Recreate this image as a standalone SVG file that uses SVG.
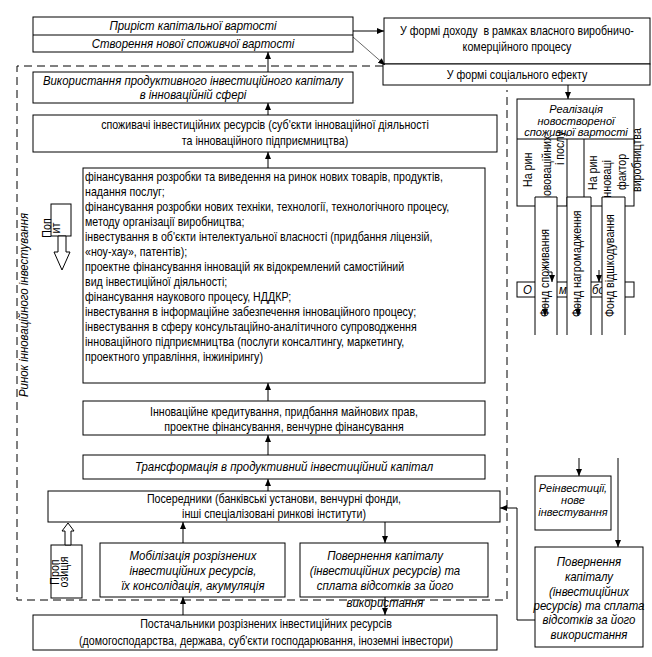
<svg xmlns="http://www.w3.org/2000/svg" width="652" height="657" viewBox="0 0 652 657">
<style>
.b{fill:#fff;stroke:#000;stroke-width:1}
.t{font-family:"Liberation Sans",Arial,sans-serif;font-size:13px;fill:#000}
.s{font-size:11px}
.u{font-size:12px}
.i{font-style:italic}
.m{text-anchor:middle}
.c{stroke:#000;stroke-width:1;fill:none}
.d{stroke:#000;stroke-width:1;fill:none;stroke-dasharray:8 5}
</style>
<defs>
<marker id="a" markerWidth="8" markerHeight="8" refX="7" refY="4" orient="auto" markerUnits="userSpaceOnUse"><path d="M0,1 L7,4 L0,7 z" fill="#000"/></marker>
</defs>
<rect width="652" height="657" fill="#fff"/>
<path id="market-border" class="d" d="M383,66 H17 V600 H507 V90"/>
<text class="t i m" transform="translate(28 305) rotate(-90) scale(.88 1)">Ринок інноваційного інвестування</text>

<g id="n-top">
<rect class="b" x="33" y="17" width="320" height="35"/>
<line class="c" x1="33" y1="35" x2="353" y2="35"/>
<text class="t i m" transform="translate(193 30) scale(.88 1)">Приріст капітальної вартості</text>
<text class="t i m" transform="translate(193 48) scale(.88 1)">Створення нової споживчої вартості</text>
</g>
<g id="n-income">
<rect class="b" x="384" y="18" width="266" height="46"/>
<text class="t m" transform="translate(517 35) scale(.82 1)">У формі доходу&#160; в рамках власного виробничо-</text>
<text class="t m" transform="translate(517 51) scale(.82 1)">комерційного процесу</text>
</g>
<g id="n-social">
<rect class="b" x="383" y="64" width="267" height="21"/>
<text class="t m" transform="translate(517 79) scale(.82 1)">У формі соціального ефекту</text>
</g>
<g id="n-use">
<rect class="b" x="33" y="72" width="320" height="31"/>
<text class="t u i m" transform="translate(193 84.5) scale(.95 1)">Використання продуктивного інвестиційного капіталу</text>
<text class="t u i m" transform="translate(193 98.5) scale(.95 1)">в інноваційній сфері</text>
</g>
<g id="n-consumers">
<rect class="b" x="33" y="115" width="464" height="37"/>
<text class="t m" transform="translate(265 129) scale(.82 1)">споживачі інвестиційних ресурсів (суб'єкти інноваційної діяльності</text>
<text class="t m" transform="translate(265 145) scale(.82 1)">та інноваційного підприємництва)</text>
</g>
<g id="n-list">
<rect class="b" x="83" y="168" width="402" height="215"/>
<text class="t" transform="translate(85 181) scale(.82 1)">фінансування розробки та виведення на ринок нових товарів, продуктів,</text>
<text class="t" transform="translate(85 196) scale(.82 1)">надання послуг;</text>
<text class="t" transform="translate(85 211) scale(.82 1)">фінансування розробки нових техніки, технології, технологічного процесу,</text>
<text class="t" transform="translate(85 226) scale(.82 1)">методу організації виробництва;</text>
<text class="t" transform="translate(85 241) scale(.82 1)">інвестування в об'єкти інтелектуальної власності (придбання ліцензій,</text>
<text class="t" transform="translate(85 256) scale(.82 1)">«ноу-хау», патентів);</text>
<text class="t" transform="translate(85 271) scale(.82 1)">проектне фінансування інновацій як відокремлений самостійний</text>
<text class="t" transform="translate(85 286) scale(.82 1)">вид інвестиційної діяльності;</text>
<text class="t" transform="translate(85 301) scale(.82 1)">фінансування наукового процесу, НДДКР;</text>
<text class="t" transform="translate(85 316) scale(.82 1)">інвестування в інформаційне забезпечення інноваційного процесу;</text>
<text class="t" transform="translate(85 331) scale(.82 1)">інвестування в сферу консультаційно-аналітичного супроводження</text>
<text class="t" transform="translate(85 346) scale(.82 1)">інноваційного підприємництва (послуги консалтингу, маркетингу,</text>
<text class="t" transform="translate(85 361) scale(.82 1)">проектного управління, інжинірингу)</text>
</g>
<g id="n-credit">
<rect class="b" x="83" y="401" width="402" height="34"/>
<text class="t m" transform="translate(284 416) scale(.82 1)">Інноваційне кредитування, придбання майнових прав,</text>
<text class="t m" transform="translate(284 431) scale(.82 1)">проектне фінансування, венчурне фінансування</text>
</g>
<g id="n-transform">
<rect class="b" x="83" y="455" width="402" height="24"/>
<text class="t i m" transform="translate(284 471) scale(.88 1)">Трансформація в продуктивний інвестиційний капітал</text>
</g>
<g id="n-intermediaries">
<rect class="b" x="48" y="491" width="452" height="31"/>
<text class="t m" transform="translate(274 503) scale(.82 1)">Посередники (банківські установи, венчурні фонди,</text>
<text class="t m" transform="translate(274 518) scale(.82 1)">інші спеціалізовані ринкові інститути)</text>
</g>
<g id="n-mobilization">
<rect class="b" x="100" y="543" width="185" height="54"/>
<text class="t i m" transform="translate(193 560) scale(.88 1)">Мобілізація розрізнених</text>
<text class="t i m" transform="translate(193 575) scale(.88 1)">інвестиційних ресурсів,</text>
<text class="t i m" transform="translate(193 590) scale(.88 1)">їх консолідація, акумуляція</text>
</g>
<g id="n-return">
<rect class="b" x="300" y="543" width="188" height="54"/>
<text class="t i m" transform="translate(385 560) scale(.88 1)">Повернення капіталу</text>
<text class="t i m" transform="translate(385 575) scale(.88 1)">(інвестиційних ресурсів) та</text>
<text class="t i m" transform="translate(385 590) scale(.88 1)">сплата відсотків за його</text>
<text class="t i m" transform="translate(385 607) scale(.88 1)">використання</text>
</g>
<g id="n-suppliers">
<rect class="b" x="33" y="615" width="464" height="35"/>
<text class="t m" transform="translate(266 628) scale(.82 1)">Постачальники розрізнених інвестиційних ресурсів</text>
<text class="t m" transform="translate(266 645) scale(.82 1)">(домогосподарства, держава, суб'єкти господарювання, іноземні інвестори)</text>
</g>
<g id="n-demand">
<rect class="b" x="51" y="204" width="20" height="32"/>
<polygon class="b" points="58,236 58,252 54,252 62,270 70,252 66,252 66,236"/>
<text class="t m" transform="translate(51 228) rotate(-90) scale(.82 1)">Поп</text>
<text class="t m" transform="translate(60 228) rotate(-90) scale(.82 1)">ит</text>
</g>
<g id="n-supply">
<rect class="b" x="51" y="545" width="31" height="53"/>
<polygon class="b" points="65,545 65,531 62,531 68,523 74,531 71,531 71,545"/>
<text class="t m" transform="translate(59 572) rotate(-90) scale(.82 1)">Проп</text>
<text class="t m" transform="translate(68 572) rotate(-90) scale(.82 1)">озиція</text>
</g>
<g id="n-realization">
<rect class="b" x="517" y="99" width="117" height="107"/>
<line class="c" x1="517" y1="139" x2="634" y2="139"/>
<line class="c" x1="567" y1="139" x2="567" y2="206"/>
<line class="c" x1="584" y1="139" x2="584" y2="206"/>
<text class="t s i m" x="576" y="113">Реалізація</text>
<text class="t s i m" x="576" y="124.5">новоствореної</text>
<text class="t s i m" x="576" y="136">споживчої вартості</text>
<text class="t" transform="translate(532 187) rotate(-90) scale(.82 1)">На рин</text>
<text class="t" transform="translate(551 202) rotate(-90) scale(.82 1)">нововаційних</text>
<text class="t" transform="translate(564 165) rotate(-90) scale(.82 1)">і послу</text>
<text class="t" transform="translate(597 190) rotate(-90) scale(.82 1)">На рин</text>
<text class="t" transform="translate(611 200) rotate(-90) scale(.82 1)">інноваці</text>
<text class="t" transform="translate(626 190) rotate(-90) scale(.82 1)">фактор</text>
<text class="t" transform="translate(641 192) rotate(-90) scale(.82 1)">виробництва</text>
</g>
<g id="n-income2">
<rect class="b" x="517" y="282" width="117" height="15"/>
<text class="t i" transform="translate(523 294) scale(.88 1)">О</text>
<text class="t i" transform="translate(559 294) scale(.88 1)">ма</text>
<text class="t i" transform="translate(592 294) scale(.88 1)">бо</text>
</g>
<g id="n-fund1">
<path class="b" d="M535,335 V197 H557 V335"/>
<text class="t" transform="translate(549 317) rotate(-90) scale(.82 1)">Фонд споживання</text>
</g>
<g id="n-fund2">
<path class="b" d="M567,335 V197 H591 V335"/>
<text class="t" transform="translate(581 317) rotate(-90) scale(.82 1)">Фонд нагромадження</text>
</g>
<g id="n-fund3">
<path class="b" d="M602,335 V197 H625 V335"/>
<text class="t" transform="translate(614 317) rotate(-90) scale(.82 1)">Фонд відшкодування</text>
</g>
<g id="n-reinvest">
<rect class="b" x="535" y="476" width="76" height="54"/>
<text class="t s i m" x="573" y="492">Реінвестиції,</text>
<text class="t s i m" x="573" y="504">нове</text>
<text class="t s i m" x="573" y="516">інвестування</text>
</g>
<g id="n-return2">
<rect class="b" x="535" y="547" width="108" height="100"/>
<text class="t i m" transform="translate(589 566) scale(.88 1)">Повернення</text>
<text class="t i m" transform="translate(589 581) scale(.88 1)">капіталу</text>
<text class="t i m" transform="translate(589 596) scale(.88 1)">(інвестиційних</text>
<text class="t i m" transform="translate(589 610) scale(.88 1)">ресурсів) та сплата</text>
<text class="t i m" transform="translate(589 624) scale(.88 1)">відсотків за його</text>
<text class="t i m" transform="translate(589 639) scale(.88 1)">використання</text>
</g>
<g id="connectors">
<path class="c" marker-end="url(#a)" d="M353,31 H384"/>
<path stroke="#000" stroke-width="0.6" fill="none" marker-end="url(#a)" d="M353,37 L385,65"/>
<path class="c" marker-end="url(#a)" d="M268,72 V52"/>
<path class="c" marker-end="url(#a)" d="M268,115 V103"/>
<path class="c" marker-end="url(#a)" d="M268,168 V152"/>
<path class="c" marker-end="url(#a)" d="M268,401 V383"/>
<path class="c" marker-end="url(#a)" d="M268,455 V435"/>
<path class="c" marker-end="url(#a)" d="M268,491 V479"/>
<path class="c" marker-end="url(#a)" d="M183,543 V522"/>
<path class="c" marker-end="url(#a)" d="M385,522 V543"/>
<path class="c" marker-end="url(#a)" d="M183,615 V597"/>
<path class="c" marker-end="url(#a)" d="M385,597 V615"/>
<path class="c" marker-end="url(#a)" d="M568,85 V99"/>
<path class="c" marker-end="url(#a)" d="M579,458 V476"/>
<path class="c" marker-end="url(#a)" d="M618,458 V547"/>
<path class="c" marker-end="url(#a)" d="M535,620 H517 V508 H500"/>
<path class="c" marker-end="url(#a)" d="M547,272 H552 V282"/>
<path class="c" marker-end="url(#a)" d="M599,270 V282"/>
<path class="c" marker-end="url(#a)" d="M545,304 V316"/>
<path class="c" marker-end="url(#a)" d="M578,304 V316"/>
</g>
</svg>
